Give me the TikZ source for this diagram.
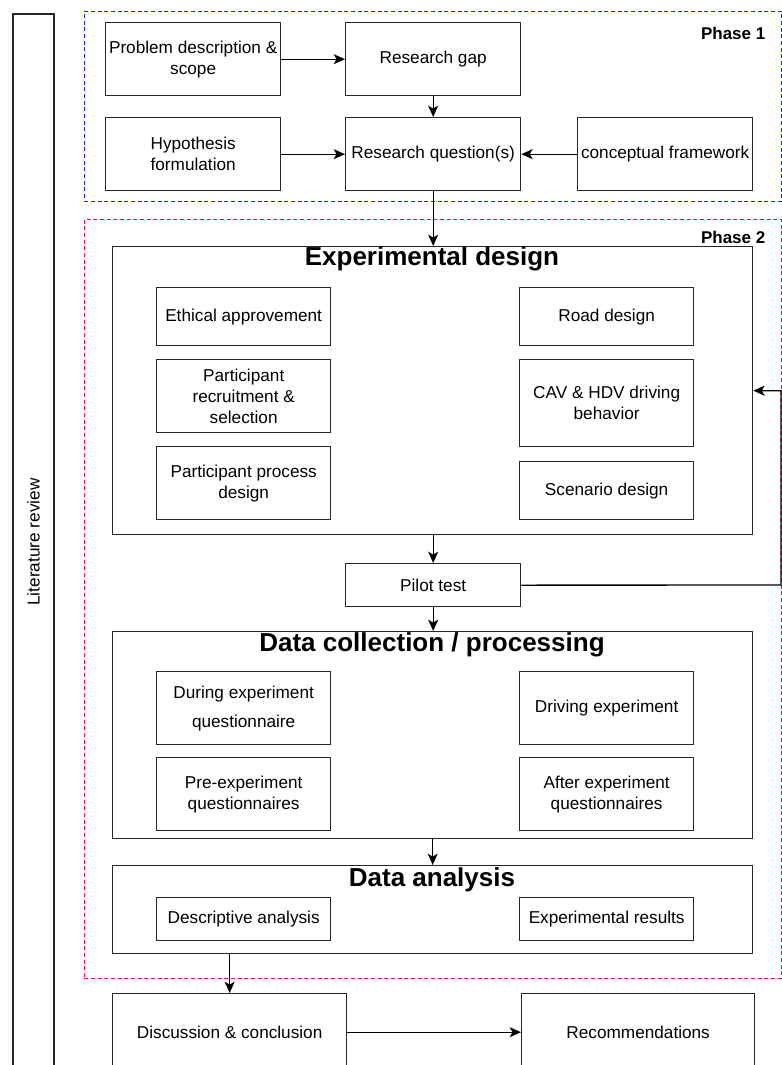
\documentclass[tikz,border=0pt]{standalone}
\usepackage{fontspec}
\setmainfont{Liberation Sans}
\usetikzlibrary{arrows.meta, positioning}
\definecolor{phaseblue}{RGB}{30,30,255}
\definecolor{phasered}{RGB}{250,10,70}

\begin{document}
\begin{tikzpicture}[x=0.75pt, y=-0.75pt,
    box/.style={rectangle, draw=black!85, line width=1pt, align=center, inner sep=1pt, anchor=north west, font=\fontsize{12.9}{15.75}\selectfont},
    sbox/.style={box, minimum width=131.25pt, minimum height=54.75pt},
    ibox/.style={box, minimum width=130.5pt, minimum height=43.5pt},
    group/.style={box, minimum width=480pt},
    phase/.style={rectangle, dash pattern=on 3pt off 2pt, line width=1.2pt, anchor=north west, minimum width=522.75pt},
    title/.style={font=\fontsize{19.5}{22}\selectfont\bfseries},
    tag/.style={anchor=east, font=\fontsize{12.75}{15}\selectfont\bfseries},
    arr/.style={-{Stealth[length=8.5pt, width=7.5pt, inset=2.2pt]}, line width=1pt}
]
\clip (0,0) rectangle (782,1065);

\node[box, rotate=90, anchor=center, minimum width=792pt, minimum height=30.75pt] (lit) at (33.5,542) {Literature review};

% Phase 1
\node[phase, draw=phaseblue, minimum height=142.5pt] (ph1) at (83.5,10.5) {};
\node[tag] (ph1tag) at (770,33) {Phase 1};
\node[sbox] (problem)  at (105,22)  {Problem description \&\\scope};
\node[sbox] (gap)      at (345,22)  {Research gap};
\node[sbox] (hypo)     at (105,117) {Hypothesis\\formulation};
\node[sbox] (question) at (345,117) {Research question(s)};
\node[sbox] (concept)  at (577,117) {conceptual framework};

\draw[arr] (problem) -- (gap);
\draw[arr] (gap)     -- (question);
\draw[arr] (hypo)    -- (question);
\draw[arr] (concept) -- (question);

% Phase 2
\node[phase, draw=phasered, minimum height=569.25pt] (ph2) at (83.5,218.5) {};
\node[tag] (ph2tag) at (770,237) {Phase 2};

\node[group, minimum height=216pt] (expd) at (112,246) {};
\node[title] (expdt) at (432,259) {Experimental design};
\node[ibox] (ethic) at (156,287) {Ethical approvement};
\node[ibox] (road)  at (519,287) {Road design};
\node[ibox, minimum height=54.75pt] (recruit) at (156,359) {Participant\\recruitment \&\\selection};
\node[ibox, minimum height=65.25pt] (behav)   at (519,359) {CAV \& HDV driving\\behavior};
\node[ibox, minimum height=54.75pt] (process) at (156,446) {Participant process\\design};
\node[ibox] (scen) at (519,461) {Scenario design};

\node[box, minimum width=131.25pt, minimum height=32.25pt] (pilot) at (345,563) {Pilot test};

\node[group, minimum height=155.25pt] (coll) at (112,631) {};
\node[title] (collt) at (432,645) {Data collection / processing};
\node[ibox, minimum height=54.75pt] (during) at (156,671) {During experiment\\[6pt]questionnaire};
\node[ibox, minimum height=54.75pt] (drive)  at (519,671) {Driving experiment};
\node[ibox, minimum height=54.75pt] (pre)    at (156,757) {Pre-experiment\\questionnaires};
\node[ibox, minimum height=54.75pt] (after)  at (519,757) {After experiment\\questionnaires};

\node[group, minimum height=66pt] (anal) at (112,865) {};
\node[title] (analt) at (432,880) {Data analysis};
\node[ibox, minimum height=32.25pt] (desc) at (156,897) {Descriptive analysis};
\node[ibox, minimum height=32.25pt] (res)  at (519,897) {Experimental results};

\draw[arr] (question.south) -- (question.south |- expd.north);
\draw[arr] (pilot.north |- expd.south) -- (pilot.north);
\draw[arr] (pilot.south) -- (pilot.south |- coll.north);
\coordinate (loop) at (781,585);
\draw[arr] (pilot.east) -- (loop) |- (expd.east);
\draw[arr] (coll.south) -- (anal.north);

% after phase 2
\node[box, minimum width=175.5pt, minimum height=57.75pt]  (disc)  at (112,993) {Discussion \& conclusion};
\node[box, minimum width=174.75pt, minimum height=57.75pt] (recom) at (521,993) {Recommendations};

\draw[arr] (disc.north |- anal.south) -- (disc.north);
\draw[arr] (disc) -- (recom);
\end{tikzpicture}
\end{document}
